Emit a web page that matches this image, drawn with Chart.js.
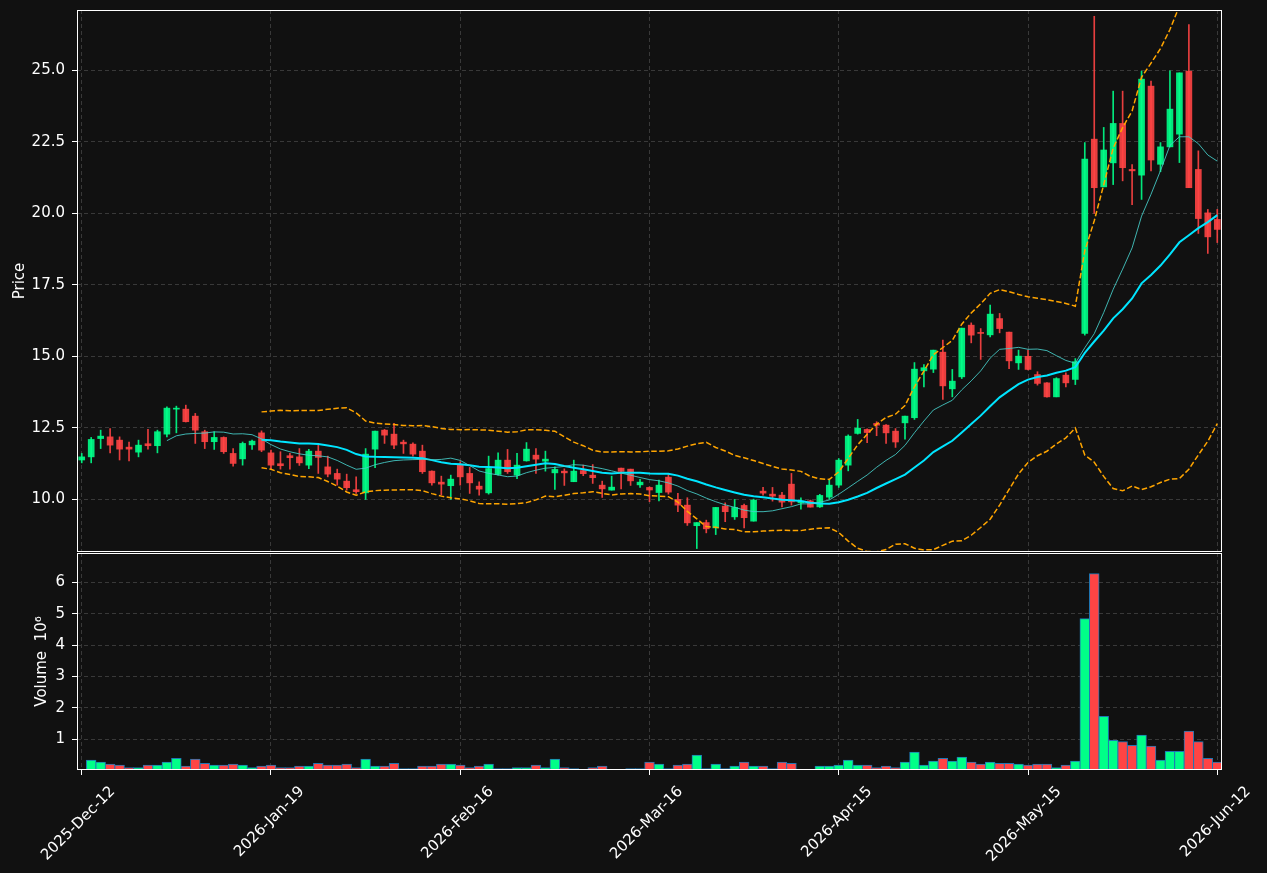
<!DOCTYPE html>
<html>
<head>
<meta charset="utf-8">
<script src="https://cdn.jsdelivr.net/npm/chart.js@4.4.0/dist/chart.umd.min.js"></script>
<style>
html, body { margin: 0; padding: 0; background: #111111; }
#wrap { position: relative; width: 1267px; height: 873px; overflow: hidden; background: #111111; }
canvas { position: absolute; left: 0; }
#priceCanvas { top: 0; }
#volCanvas { top: 553px; }
</style>
</head>
<body>
<div id="wrap">
  <canvas id="priceCanvas" width="1267" height="553"></canvas>
  <canvas id="volCanvas" width="1267" height="320"></canvas>
</div>
<script>
// daily candles (index 0 = 2025-Dec-12)
var opens = [11.37,11.48,12.12,12.18,12.065,11.82,11.645,11.94,11.87,12.275,
  13.15,13.15,12.905,12.36,12.01,12.16,11.6,11.41,11.9,12.32,
  11.62,11.24,11.52,11.48,11.19,11.68,11.13,10.9,10.63,10.33,
  10.22,11.75,12.415,12.275,11.995,11.925,11.68,10.98,10.595,10.47,
  11.19,10.9,10.455,10.22,10.865,11.365,10.84,11.34,11.54,11.33,
  10.92,10.98,10.61,11.0,10.84,10.49,10.315,11.085,11.05,10.5,
  10.41,10.23,10.77,9.99,9.79,9.07,9.18,8.995,9.755,9.38,
  9.78,9.23,10.28,10.175,10.14,10.525,9.87,9.94,9.73,10.07,
  10.49,11.19,12.3,12.44,12.65,12.59,12.38,12.67,12.85,14.49,
  14.55,15.145,13.86,14.28,16.09,15.83,15.75,16.32,15.845,14.77,
  15.0,14.36,14.07,13.58,14.34,14.19,15.8,22.6,20.93,21.77,
  23.15,21.54,21.34,24.455,21.72,22.33,22.775,24.98,21.54,20.02,19.79];
var highs = [11.6,12.16,12.415,12.47,12.18,11.995,12.065,12.44,12.415,13.23,
  13.255,13.29,13.0,12.415,12.36,12.18,11.77,12.0,12.065,12.39,
  11.72,11.66,11.6,11.77,11.74,11.89,11.505,11.05,10.875,10.78,
  11.77,12.38,12.44,12.65,12.065,11.97,11.89,10.99,10.805,10.84,
  11.31,11.11,10.61,11.505,11.62,11.74,11.6,11.98,11.77,11.68,
  11.13,11.06,11.365,11.19,11.21,10.63,10.805,11.085,11.05,10.69,
  10.43,10.665,10.875,10.2,10.05,9.18,9.265,9.71,9.87,9.99,
  9.825,10.0,10.41,10.41,10.235,10.9,10.05,9.965,10.165,10.665,
  11.42,12.25,12.79,12.46,12.71,12.61,12.47,12.905,14.78,14.71,
  15.215,15.565,14.54,15.985,16.17,15.97,16.79,16.5,15.845,15.215,
  15.215,14.46,14.08,14.25,14.42,14.92,22.48,26.9,23.01,24.28,
  24.28,21.71,24.98,24.63,22.48,24.99,24.92,26.61,22.19,20.14,20.14];
var lows = [11.27,11.27,11.77,11.62,11.37,11.34,11.48,11.75,11.62,12.18,
  12.32,12.7,11.95,11.77,11.74,11.6,11.155,11.19,11.74,11.66,
  11.07,11.05,11.05,11.18,11.07,10.9,10.78,10.49,10.315,10.2,
  9.99,11.1,11.95,11.77,11.6,11.505,10.9,10.49,10.14,9.99,
  10.49,10.2,10.14,10.175,10.84,10.9,10.72,11.33,10.9,10.98,
  10.34,10.48,10.61,10.82,10.55,10.06,10.315,10.36,10.48,10.41,
  9.91,9.94,10.175,9.56,9.08,8.27,8.82,8.76,9.21,9.29,
  8.995,9.23,10.14,9.93,9.73,9.79,9.65,9.72,9.71,10.0,
  10.41,10.99,12.275,11.98,12.22,11.95,11.81,12.1,12.79,13.93,
  14.43,13.49,13.58,14.22,15.47,14.89,15.68,15.82,14.57,14.54,
  14.52,13.99,13.57,13.58,13.93,14.01,15.74,20.0,20.93,21.01,
  21.14,20.31,20.49,21.49,21.46,22.33,21.78,20.9,19.3,18.6,18.98];
var closes = [11.48,12.09,12.205,11.89,11.75,11.75,11.89,11.87,12.36,13.185,
  13.185,12.71,12.415,12.01,12.16,11.66,11.25,11.95,12.03,11.715,
  11.19,11.17,11.45,11.27,11.68,11.46,10.875,10.7,10.4,10.26,
  11.575,12.38,12.24,11.89,11.935,11.575,10.96,10.57,10.525,10.7,
  10.78,10.57,10.35,11.07,11.365,10.96,11.19,11.75,11.4,11.4,
  11.04,10.92,10.98,10.89,10.75,10.36,10.42,10.97,10.64,10.595,
  10.32,10.49,10.245,9.79,9.17,9.18,8.96,9.71,9.56,9.71,
  9.35,9.965,10.21,10.105,9.895,9.905,9.93,9.72,10.13,10.49,
  11.365,12.205,12.485,12.33,12.59,12.32,12.0,12.905,14.55,14.6,
  15.215,13.965,14.13,15.985,15.74,15.8,16.475,15.97,14.84,15.005,
  14.54,14.05,13.58,14.22,14.07,14.81,21.9,20.9,22.22,23.15,
  21.6,21.49,24.7,21.87,22.33,23.65,24.92,20.9,19.82,19.18,19.44];
// volume in millions
var volume = [0,0.32,0.255,0.19,0.16,0.085,0.085,0.16,0.16,0.255,
  0.38,0.13,0.35,0.22,0.16,0.16,0.19,0.16,0.085,0.13,
  0.16,0.085,0.085,0.13,0.13,0.22,0.16,0.16,0.19,0.085,
  0.35,0.13,0.13,0.22,0.05,0.05,0.13,0.13,0.19,0.19,
  0.16,0.085,0.13,0.19,0.05,0.05,0.085,0.085,0.16,0.085,
  0.35,0.085,0.05,0.02,0.085,0.13,0.02,0.02,0.05,0.05,
  0.255,0.19,0.05,0.16,0.19,0.48,0.05,0.19,0.05,0.13,
  0.255,0.13,0.13,0.05,0.255,0.22,0.02,0.02,0.13,0.13,
  0.16,0.32,0.16,0.16,0.085,0.13,0.085,0.255,0.575,0.16,
  0.29,0.38,0.29,0.415,0.255,0.19,0.255,0.22,0.22,0.19,
  0.16,0.19,0.19,0.085,0.16,0.29,4.84,6.28,1.72,0.95,
  0.915,0.79,1.12,0.77,0.32,0.6,0.6,1.245,0.915,0.38,0.255];
var tickLabels = ['2025-Dec-12','2026-Jan-19','2026-Feb-16','2026-Mar-16','2026-Apr-15','2026-May-15','2026-Jun-12'];
var tickStep = 20;

var UP = 'rgba(0,255,136,0.9)', DOWN = 'rgba(255,68,68,0.9)';
var VUP = '#00ff88', VDOWN = '#ff4444';
var GRID = 'rgba(255,255,255,0.17)';

Chart.defaults.font.family = 'DejaVu Sans';
Chart.defaults.font.size = 15;
Chart.defaults.color = '#ffffff';

// rolling mean / bollinger from the closes
function sma(arr, n) {
  return arr.map(function (v, i) {
    if (i < n - 1) return null;
    var s = 0;
    for (var j = i - n + 1; j <= i; j++) s += arr[j];
    return s / n;
  });
}
function band(arr, n, k) {
  var m = sma(arr, n);
  return arr.map(function (v, i) {
    if (m[i] === null) return null;
    var s = 0;
    for (var j = i - n + 1; j <= i; j++) s += (arr[j] - m[i]) * (arr[j] - m[i]);
    return m[i] + k * Math.sqrt(s / n);
  });
}
var ma10 = sma(closes, 10);
var ma20 = sma(closes, 20);
var bbUp = band(closes, 20, 2);
var bbLo = band(closes, 20, -2);

var labels = closes.map(function (c, i) { return i; });
var isUp = closes.map(function (c, i) { return c >= opens[i]; });

var frame = {
  id: 'frame',
  afterDraw: function (chart) {
    var a = chart.chartArea, ctx = chart.ctx;
    ctx.save();
    ctx.strokeStyle = '#ffffff';
    ctx.lineWidth = 1;
    ctx.strokeRect(a.left + 0.5, a.top + 0.5, a.right - a.left - 1, a.bottom - a.top - 1);
    ctx.restore();
  }
};

function xGrid(ctx) { return ctx.index % tickStep === 0 ? GRID : 'rgba(0,0,0,0)'; }
function xTick(ctx) { return ctx.index % tickStep === 0 ? '#ffffff' : 'rgba(0,0,0,0)'; }
function noPad(s) { s.paddingTop = 0; s.paddingBottom = 0; s.paddingLeft = 0; s.paddingRight = 0; }

new Chart(document.getElementById('priceCanvas'), {
  type: 'bar',
  data: {
    labels: labels,
    datasets: [
      { type: 'line', data: ma10, borderColor: 'rgba(72,209,204,0.85)', borderWidth: 1, pointRadius: 0, tension: 0, order: 0 },
      { type: 'line', data: ma20, borderColor: '#00e5ff', borderWidth: 2, pointRadius: 0, tension: 0, order: 0 },
      { type: 'line', data: bbUp, borderColor: '#ffa500', borderWidth: 1.5, borderDash: [5.5, 2.5], pointRadius: 0, tension: 0, order: 0 },
      { type: 'line', data: bbLo, borderColor: '#ffa500', borderWidth: 1.5, borderDash: [5.5, 2.5], pointRadius: 0, tension: 0, order: 0 },
      { data: closes.map(function (c, i) { return [opens[i], c]; }),
        backgroundColor: isUp.map(function (u) { return u ? UP : DOWN; }),
        barThickness: 6, grouped: false, minBarLength: 1, order: 1 },
      { data: lows.map(function (l, i) { return [l, highs[i]]; }),
        backgroundColor: isUp.map(function (u) { return u ? UP : DOWN; }),
        barThickness: 1, grouped: false, order: 2 }
    ]
  },
  options: {
    responsive: false,
    animation: false,
    devicePixelRatio: 1,
    layout: { padding: { left: 6, right: 45, top: 10, bottom: 1 } },
    plugins: { legend: { display: false }, tooltip: { enabled: false } },
    scales: {
      x: {
        offset: true,
        grid: { offset: false, color: xGrid, drawTicks: false },
        border: { display: false, dash: [4, 3] },
        ticks: { display: false, autoSkip: false },
        afterFit: function (s) { s.height = 0; noPad(s); }
      },
      y: {
        min: 8.15, max: 27.12,
        grid: { color: GRID, tickColor: '#ffffff', tickLength: 5 },
        border: { display: false, dash: [4, 3] },
        ticks: { stepSize: 2.5, includeBounds: false, padding: 7,
          callback: function (v) { return v.toFixed(1); } },
        title: { display: true, text: 'Price', color: '#ffffff', padding: { top: 5, bottom: 2 } },
        afterFit: function (s) { s.width = 71; noPad(s); }
      }
    }
  },
  plugins: [frame]
});

new Chart(document.getElementById('volCanvas'), {
  type: 'bar',
  data: {
    labels: labels,
    datasets: [{
      data: volume,
      backgroundColor: isUp.map(function (u) { return u ? VUP : VDOWN; }),
      borderColor: '#1f77b4',
      borderWidth: 1,
      borderSkipped: false,
      inflateAmount: 0.5,
      barPercentage: 1,
      categoryPercentage: 1
    }]
  },
  options: {
    responsive: false,
    animation: false,
    devicePixelRatio: 1,
    layout: { padding: { left: 28, right: 45, top: 0, bottom: 0 } },
    plugins: { legend: { display: false }, tooltip: { enabled: false } },
    scales: {
      x: {
        offset: true,
        grid: { offset: false, color: xGrid, tickColor: xTick, tickLength: 5 },
        border: { display: false, dash: [4, 3] },
        ticks: {
          autoSkip: false, minRotation: 45, maxRotation: 45, labelOffset: 31, padding: 8,
          callback: function (v, i) { return i % tickStep === 0 ? tickLabels[i / tickStep] : ''; }
        },
        afterFit: function (s) { s.height = 103; noPad(s); }
      },
      y: {
        min: 0.01, max: 6.94,
        grid: { color: GRID, tickColor: '#ffffff', tickLength: 5 },
        border: { display: false, dash: [4, 3] },
        ticks: { stepSize: 1, includeBounds: false, padding: 7 },
        title: { display: true, text: 'Volume  10\u2076', color: '#ffffff', padding: { top: 5, bottom: 2 } },
        afterFit: function (s) { s.width = 49; noPad(s); }
      }
    }
  },
  plugins: [frame]
});
</script>
</body>
</html>
